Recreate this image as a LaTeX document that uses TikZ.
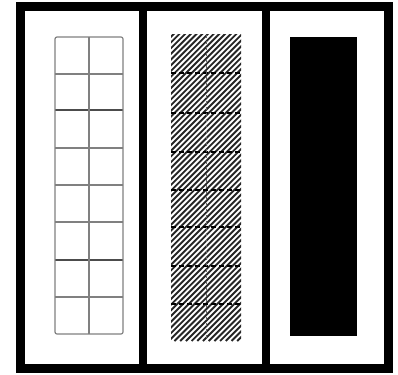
\documentclass[tikz,border=0pt]{standalone}
\begin{document}
\begin{tikzpicture}[x=1pt,y=-1pt,
  frame/.style={draw=black,line width=9pt},
  divider/.style={draw=black,line width=8pt},
  gridline/.style={draw=black!50,line width=1.2pt},
  gridmajor/.style={draw=black!70,line width=1.5pt},
  hatchline/.style={draw=black!85,line width=1.9pt},
  hatchsep/.style={draw=black,line width=1.4pt,dash pattern=on 5pt off 3pt},
  hatchmid/.style={draw=black!60,line width=0.8pt,dash pattern=on 3pt off 3pt}]
\useasboundingbox (0,0) rectangle (398,374);
% outer frame
\draw[frame] (20,7) rectangle (388,368);
\draw[divider] (143,7) -- (143,368);
\draw[divider] (266,7) -- (266,368);
% panel 1: grid
\foreach \y in {74,148,185,222,297} \draw[gridline] (55,\y) -- (123,\y);
\foreach \y in {110,260} \draw[gridmajor] (55,\y) -- (123,\y);
\draw[gridline] (89,37) -- (89,334);
\draw[gridline,rounded corners=2pt] (55,37) rectangle (123,334);
% panel 2: hatched
\begin{scope}
\clip (171,35) rectangle (241,341);
\foreach \k in {0,...,70} \draw[hatchline] (171+\k*5.7-310,341) -- (171+\k*5.7,31);
\foreach \y in {73,113,152,190,227,266,304} \draw[hatchsep] (171,\y) -- (241,\y);
\draw[hatchmid] (206,35) -- (206,341);
\end{scope}
% panel 3: black
\fill[black] (290,37) rectangle (357,336);
\end{tikzpicture}
\end{document}
